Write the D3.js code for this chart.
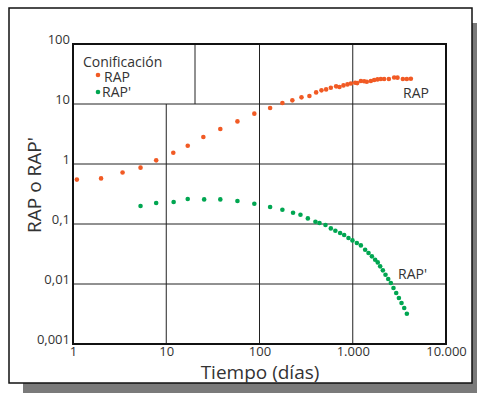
<html>
  <head>
    <meta charset="utf-8">
    <title>RAP - Conificación</title>
    <script type="text/javascript" src="https://cdn.jsdelivr.net/npm/d3@7"></script>
    <style>
      body { margin: 0; background: #fff; }
      text { font-family: "Open Sans", sans-serif; fill: #333; }
    </style>
  </head>
  <body>
    <script type="text/javascript">
// Datos (tiempo en dias)
const rapDias = [1.1, 2.0, 3.4, 5.3, 7.8, 11.9, 17, 25, 38, 58, 88, 130, 176, 225, 282, 343, 405, 462, 518,
  582, 663, 720, 795, 877, 955, 1062, 1116, 1222, 1325, 1415, 1563, 1698, 1842, 2000, 2172, 2438, 2780, 3020, 3445, 3800, 4200]
const rap = [0.55, 0.575, 0.72, 0.87, 1.15, 1.54, 2.02, 2.82, 3.83, 5.13, 6.9, 8.6, 10.4, 11.5, 12.9, 13.6, 15.6, 16.9, 17.5,
  18.7, 19.7, 19.2, 20.4, 21.2, 22.0, 22.6, 22.3, 24.2, 23.9, 23.5, 24.2, 25.1, 25.7, 26.1, 26.1, 26.1, 27.7, 27.5, 26.1, 26.1, 26.3]

const rapPrimaDias = [5.3, 7.8, 12, 17, 25.5, 38, 58, 88, 130, 176, 229, 275, 330, 398, 440, 510, 582, 651, 732, 809, 900,
  993, 1107, 1222, 1358, 1476, 1604, 1738, 1854, 1968, 2104, 2245, 2400, 2563, 2735, 2924, 3125, 3334, 3563, 3805]
const rapPrima = [0.2, 0.224, 0.233, 0.261, 0.257, 0.257, 0.242, 0.218, 0.192, 0.173, 0.154, 0.143, 0.124, 0.109, 0.104,
  0.0962, 0.0845, 0.0773, 0.0708, 0.0656, 0.0585, 0.0533, 0.0482, 0.044, 0.0373, 0.0329, 0.0289, 0.0254, 0.0229, 0.0197,
  0.0169, 0.0143, 0.0121, 0.0104, 0.00858, 0.00708, 0.00585, 0.00482, 0.00398, 0.0032]

const xTicks = [1, 10, 100, 1000, 10000]
const xTickLabels = ["1", "10", "100", "1.000", "10.000"]
const yTicks = [0.001, 0.01, 0.1, 1, 10, 100]
const yTickLabels = ["0,001", "0,01", "0,1", "1", "10", "100"]

const w = 477
const h = 393
const mLeft = 73, mRight = 446, mTop = 44, mBottom = 344
const naranja = "#f15a24"
const verde = "#00a651"

const svg = d3.select("body")
  .append("svg")
  .attr("width", w)
  .attr("height", h)

let xScale = d3.scaleLog().domain([1, 10000]).range([mLeft, mRight])
let yScale = d3.scaleLog().domain([0.001, 100]).range([mBottom, mTop])

// sombra y marco
svg.append("rect").attr("x", 23).attr("y", 23).attr("width", 454).attr("height", 370).attr("fill", "#7a7a7a")
svg.append("rect").attr("x", 9).attr("y", 8).attr("width", 463).attr("height", 375)
  .attr("fill", "#fff").attr("stroke", "#111").attr("stroke-width", 1.5)

// rejilla
const grid = svg.append("g").attr("stroke", "#222").attr("stroke-width", 1)
for (let v of [10, 100, 1000]) {
  grid.append("line")
    .attr("x1", xScale(v)).attr("x2", xScale(v))
    .attr("y1", v == 10 ? yScale(10) : mTop).attr("y2", mBottom)
}
for (let v of [0.01, 0.1, 1, 10]) {
  grid.append("line")
    .attr("x1", mLeft).attr("x2", mRight)
    .attr("y1", yScale(v)).attr("y2", yScale(v))
}
// caja de la leyenda
grid.append("line").attr("x1", 195).attr("x2", 195).attr("y1", mTop).attr("y2", yScale(10))

svg.append("rect")
  .attr("x", mLeft).attr("y", mTop)
  .attr("width", mRight - mLeft).attr("height", mBottom - mTop)
  .attr("fill", "none").attr("stroke", "#111").attr("stroke-width", 2)

// ejes
svg.append("g")
  .attr("transform", "translate(0," + mBottom + ")")
  .call(d3.axisBottom(xScale).tickValues(xTicks).tickSize(0).tickPadding(3)
    .tickFormat(function(d, i) { return xTickLabels[i] }))
  .call(g => g.select(".domain").remove())
  .selectAll("text").attr("font-size", "13px").attr("fill", "#333")

svg.append("g")
  .attr("transform", "translate(" + (mLeft - 3) + ",0)")
  .call(d3.axisLeft(yScale).tickValues(yTicks).tickSize(0).tickPadding(0)
    .tickFormat(function(d, i) { return yTickLabels[i] }))
  .call(g => g.select(".domain").remove())
  .selectAll("text").attr("font-size", "13px").attr("fill", "#333").attr("dy", "-0.05em")

// puntos
svg.selectAll("circle.rap")
  .data(rap)
  .enter()
  .append("circle")
  .attr("class", "rap")
  .attr("cx", function(d, i) { return xScale(rapDias[i]) })
  .attr("cy", function(d) { return yScale(d) })
  .attr("r", 2.3)
  .style("fill", naranja)

svg.selectAll("circle.rapp")
  .data(rapPrima)
  .enter()
  .append("circle")
  .attr("class", "rapp")
  .attr("cx", function(d, i) { return xScale(rapPrimaDias[i]) })
  .attr("cy", function(d) { return yScale(d) })
  .attr("r", 2.3)
  .style("fill", verde)

// leyenda
svg.append("text").attr("x", 83).attr("y", 67).attr("font-size", "14px").text("Conificación")
svg.append("circle").attr("cx", 98).attr("cy", 75).attr("r", 2.3).style("fill", naranja)
svg.append("text").attr("x", 104).attr("y", 82).attr("font-size", "14px").text("RAP")
svg.append("circle").attr("cx", 98).attr("cy", 92).attr("r", 2.3).style("fill", verde)
svg.append("text").attr("x", 102).attr("y", 97).attr("font-size", "14px").text("RAP'")

// etiquetas de las curvas
svg.append("text").attr("x", 403).attr("y", 98).attr("font-size", "14px").text("RAP")
svg.append("text").attr("x", 398).attr("y", 279).attr("font-size", "14px").text("RAP'")

// titulos
svg.append("text")
  .attr("x", 260).attr("y", 379)
  .attr("text-anchor", "middle")
  .attr("font-size", "19px")
  .text("Tiempo (días)")

svg.append("text")
  .attr("transform", "translate(41,185) rotate(-90)")
  .attr("text-anchor", "middle")
  .attr("font-size", "19px")
  .text("RAP o RAP'")
    </script>
  </body>
</html>
